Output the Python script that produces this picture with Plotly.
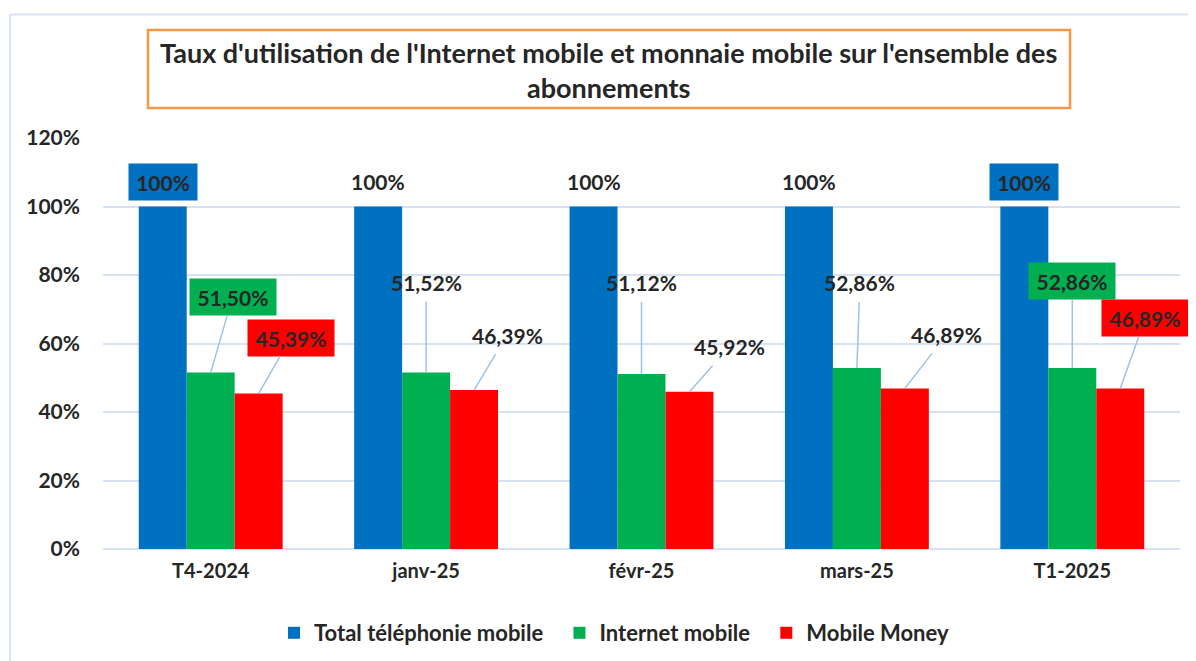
import plotly.graph_objects as go

categories = ["T4-2024", "janv-25", "févr-25", "mars-25", "T1-2025"]
total_tel = [100, 100, 100, 100, 100]
internet = [51.50, 51.52, 51.12, 52.86, 52.86]
money = [45.39, 46.39, 45.92, 46.89, 46.89]
y_ticks = [0, 20, 40, 60, 80, 100, 120]

# label offsets (pixels) relative to bar tops
green_off = [(22, -76), (0, -90), (0, -91), (3, -85), (0, -87)]
red_off = [(32, -56), (33, -55), (40, -45), (42, -54), (25, -70)]
blue_boxed = [True, False, False, False, True]
green_boxed = [True, False, False, False, True]
red_boxed = [True, False, False, False, True]

C_BLUE = "#0070C0"
C_GREEN = "#00B050"
C_RED = "#FF0000"
TXT = "#262626"
FONT = "Lato"
GRID = "#D6E2F2"
LEAD = "#9DC3E6"

OFF = 8  # page body margin
W, H = 1196 - OFF, 661 - OFF
L = 103 - OFF
R = (W + OFF) - 1180
T = 138 - OFF
B = (H + OFF) - 549
pw, ph = W - L - R, H - T - B

def px_x(p):
    return (p - OFF - L) / pw

def px_y(p):
    return (H - B - (p - OFF)) / ph

def fmt(v):
    return f"{v:.2f}".replace(".", ",") + "%"

SP = "&nbsp;" * 2
xs = list(range(len(categories)))
fig = go.Figure()
fig.add_bar(x=xs, y=total_tel, name="<b>Total téléphonie mobile</b>" + SP, marker_color=C_BLUE, marker_line_width=0)
fig.add_bar(x=xs, y=internet, name="<b>Internet mobile</b>" + SP, marker_color=C_GREEN, marker_line_width=0)
fig.add_bar(x=xs, y=money, name="<b>Mobile Money</b>", marker_color=C_RED, marker_line_width=0)

bargap = 0.332
bw = (1 - bargap) / 3
LFS = 21

anns = []
for i, v in enumerate(total_tel):
    a = dict(x=i - bw, y=v, xref="x", yref="y", text="<b>100%</b>", showarrow=False,
             yshift=25, font=dict(family=FONT, size=LFS, color=TXT))
    if blue_boxed[i]:
        a.update(bgcolor=C_BLUE, width=62, height=30, borderpad=3)
    anns.append(a)

for vals, offs, boxed, col, dx in [(internet, green_off, green_boxed, C_GREEN, 0),
                                    (money, red_off, red_boxed, C_RED, bw)]:
    for i, v in enumerate(vals):
        a = dict(x=i + dx, y=v, xref="x", yref="y", text="<b>" + fmt(v) + "</b>",
                 showarrow=True, arrowhead=0, arrowwidth=1.5, arrowcolor=LEAD,
                 ax=offs[i][0], ay=offs[i][1], standoff=0,
                 font=dict(family=FONT, size=LFS, color=TXT))
        if boxed[i]:
            a.update(bgcolor=col, width=80, height=30, borderpad=3)
        else:
            a.update(borderpad=6)
        anns.append(a)

# title
anns.append(dict(x=px_x(608), y=px_y(70), xref="paper", yref="paper", showarrow=False,
                 text="<b>Taux d'utilisation de l'Internet mobile et monnaie mobile sur l'ensemble des<br>abonnements</b>",
                 font=dict(family=FONT, size=27, color=TXT), align="center",
                 xanchor="center", yanchor="middle"))

shapes = [
    dict(type="rect", xref="paper", yref="paper", x0=px_x(148), x1=px_x(1070), y0=px_y(108), y1=px_y(30),
         line=dict(color="#F79646", width=2.5), fillcolor="rgba(0,0,0,0)", layer="above"),
    dict(type="line", xref="paper", yref="paper", x0=px_x(10), x1=px_x(1196), y0=px_y(14.5), y1=px_y(14.5),
         line=dict(color="#D9E4F3", width=2)),
    dict(type="line", xref="paper", yref="paper", x0=px_x(10), x1=px_x(10), y0=px_y(14.5), y1=px_y(661),
         line=dict(color="#D9E4F3", width=2)),
]

fig.update_layout(
    width=W, height=H,
    margin=dict(l=L, r=R, t=T, b=B, pad=0, autoexpand=False),
    paper_bgcolor="white", plot_bgcolor="white",
    barmode="group", bargap=bargap, bargroupgap=0,
    font=dict(family=FONT, color=TXT),
    annotations=anns, shapes=shapes,
    showlegend=True,
    legend=dict(orientation="h", x=px_x(614), y=px_y(633), xanchor="center", yanchor="middle",
                font=dict(family=FONT, size=22, color=TXT), itemwidth=30, traceorder="normal"),
    xaxis=dict(tickmode="array", tickvals=xs, ticktext=["<b>" + c + "</b>" for c in categories],
               range=[-0.5, len(categories) - 0.5], showgrid=False, zeroline=False,
               showline=False, ticks="", tickfont=dict(family=FONT, size=20, color=TXT),
               ticklabelstandoff=8),
    yaxis=dict(tickmode="array", tickvals=y_ticks, ticktext=[f"<b>{t}%</b>" for t in y_ticks],
               range=[0, 120], showgrid=True, gridcolor=GRID, gridwidth=2,
               zeroline=True, zerolinecolor=GRID, zerolinewidth=2, showline=False, ticks="",
               tickfont=dict(family=FONT, size=21, color=TXT), ticklabelstandoff=22),
)

fig.write_html("out.html")
